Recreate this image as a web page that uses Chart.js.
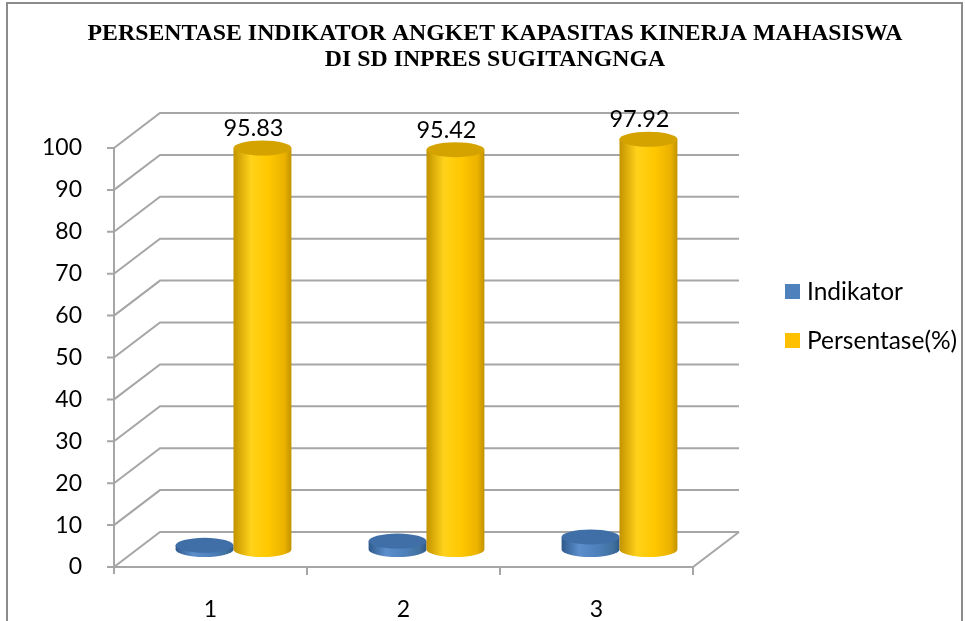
<!DOCTYPE html>
<html>
<head>
<meta charset="utf-8">
<script src="https://cdn.jsdelivr.net/npm/chart.js@4.4.1/dist/chart.umd.min.js"></script>
<style>
  body { margin: 0; background: #fff; }
  #wrap { position: absolute; left: 0; top: 0; width: 965px; height: 621px; }
</style>
</head>
<body>
<div id="wrap"><canvas id="chart" width="965" height="621"></canvas></div>
<script>
    const titleLines = ["PERSENTASE INDIKATOR ANGKET KAPASITAS KINERJA MAHASISWA", "DI SD INPRES SUGITANGNGA"];
    const categories = ["1", "2", "3"];
    const indikatorValues = [1, 2, 3];
    const persentaseValues = [95.83, 95.42, 97.92];
    const yTicks = [0, 10, 20, 30, 40, 50, 60, 70, 80, 90, 100];

    const seriesLabels = ["Indikator", "Persentase(%)"];
    const seriesColors = ["#4F81BD", "#FFC000"];

    // 3d depth of the box and of the bars
    const DEPTH_X = 46, DEPTH_Y = -35;
    const BAR_DX = 23, BAR_DY = -17.5;
    const GRID = "#a6a6a6";

    function cylinder(ctx, cx, top, base, w, pal) {
        const rx = w / 2, ry = 7.5;
        const g = ctx.createLinearGradient(cx - rx, 0, cx + rx, 0);
        g.addColorStop(0, pal.edge);
        g.addColorStop(0.3, pal.light);
        g.addColorStop(0.6, pal.mid);
        g.addColorStop(0.88, pal.dark);
        g.addColorStop(1, pal.edge);
        ctx.beginPath();
        ctx.moveTo(cx - rx, top);
        ctx.lineTo(cx - rx, base);
        ctx.ellipse(cx, base, rx, ry, 0, Math.PI, 0, true);
        ctx.lineTo(cx + rx, top);
        ctx.closePath();
        ctx.fillStyle = g;
        ctx.fill();
        ctx.beginPath();
        ctx.ellipse(cx, top, rx, ry, 0, 0, Math.PI * 2);
        ctx.fillStyle = pal.top;
        ctx.fill();
    }

    const palettes = [
        { edge: "#2f5a8c", light: "#5b8ecb", mid: "#4f81bd", dark: "#41719f", top: "#3f6fa6" },
        { edge: "#c29300", light: "#ffd21a", mid: "#ffc800", dark: "#ebb200", top: "#d4a300" }
    ];

    const box3d = {
        id: "box3d",
        beforeDraw(chart) {
            const ctx = chart.ctx;
            const a = chart.chartArea;
            const y = chart.scales.y;
            ctx.save();
            // frame of the picture
            ctx.strokeStyle = "#8c8c8c";
            ctx.lineWidth = 2;
            ctx.beginPath();
            ctx.moveTo(7, 640);
            ctx.lineTo(7, 3);
            ctx.lineTo(962, 3);
            ctx.lineTo(962, 640);
            ctx.stroke();

            ctx.strokeStyle = GRID;
            ctx.lineWidth = 2;
            ctx.beginPath();
            yTicks.forEach(v => {
                const py = y.getPixelForValue(v);
                ctx.moveTo(a.left, py);
                ctx.lineTo(a.left + DEPTH_X, py + DEPTH_Y);
                ctx.lineTo(a.right + DEPTH_X, py + DEPTH_Y);
                ctx.moveTo(a.left - 7, py);
                ctx.lineTo(a.left, py);
            });
            // floor front edge and right edge
            ctx.moveTo(a.left, a.bottom);
            ctx.lineTo(a.right, a.bottom);
            ctx.lineTo(a.right + DEPTH_X, a.bottom + DEPTH_Y);
            // front vertical axis
            ctx.moveTo(a.left, a.top);
            ctx.lineTo(a.left, a.bottom + 7);
            // category ticks
            const step = (a.right - a.left) / categories.length;
            for (let i = 1; i <= categories.length; i++) {
                ctx.moveTo(a.left + step * i, a.bottom);
                ctx.lineTo(a.left + step * i, a.bottom + 8);
            }
            ctx.stroke();
            ctx.restore();
        },
        beforeDatasetsDraw(chart) {
            const ctx = chart.ctx;
            ctx.save();
            categories.forEach((c, i) => {
                chart.data.datasets.forEach((ds, d) => {
                    const el = chart.getDatasetMeta(d).data[i];
                    const cx = el.x + BAR_DX;
                    cylinder(ctx, cx, el.y + BAR_DY, el.base + BAR_DY, el.width, palettes[d]);
                });
            });
            ctx.restore();
            return false;
        },
        afterDraw(chart) {
            const ctx = chart.ctx;
            ctx.save();
            // values above the yellow bars
            ctx.fillStyle = "#000";
            ctx.font = "23.5px Lato";
            ctx.textAlign = "center";
            ctx.textBaseline = "alphabetic";
            const meta = chart.getDatasetMeta(1);
            meta.data.forEach((el, i) => {
                ctx.fillText(persentaseValues[i].toFixed(2), el.x + BAR_DX - 9, el.y + BAR_DY - 12);
            });

            // title
            ctx.font = "bold 24px 'Liberation Serif'";
            const w0 = ctx.measureText(titleLines[0]).width;
            const sx = 815 / w0;
            titleLines.forEach((t, k) => {
                ctx.save();
                ctx.translate(495, 40 + k * 26);
                ctx.scale(sx, 1);
                ctx.fillText(t, 0, 0);
                ctx.restore();
            });

            // legend
            ctx.textAlign = "left";
            ctx.font = "24.5px Lato";
            const ly = [292, 341];
            seriesLabels.forEach((lab, k) => {
                ctx.fillStyle = seriesColors[k];
                ctx.fillRect(785, ly[k] - 8, 15, 15);
                ctx.fillStyle = "#000";
                ctx.textBaseline = "middle";
                ctx.fillText(lab, 807, ly[k]);
            });
            ctx.restore();
        }
    };

    const ctx = document.getElementById("chart").getContext("2d");
    new Chart(ctx, {
        type: "bar",
        data: {
            labels: categories,
            datasets: [
                { label: seriesLabels[0], data: indikatorValues, backgroundColor: seriesColors[0] },
                { label: seriesLabels[1], data: persentaseValues, backgroundColor: seriesColors[1] }
            ]
        },
        options: {
            responsive: false,
            animation: false,
            devicePixelRatio: 1,
            layout: { padding: { left: 44, right: 272, top: 148, bottom: 0 } },
            datasets: { bar: { categoryPercentage: 0.6, barPercentage: 1.0 } },
            plugins: {
                legend: { display: false },
                title: { display: false },
                tooltip: { enabled: false }
            },
            scales: {
                x: {
                    grid: { display: false },
                    border: { display: false },
                    ticks: { color: "#000", font: { family: "Lato", size: 23 }, padding: 21 },
                    afterFit: s => { s.height = 54; }
                },
                y: {
                    min: 0,
                    max: 100,
                    grid: { display: false },
                    border: { display: false },
                    ticks: { stepSize: 10, color: "#000", font: { family: "Lato", size: 23 }, padding: 24 },
                    afterFit: s => { s.width = 70; }
                }
            }
        },
        plugins: [box3d]
    });
</script>
</body>
</html>
